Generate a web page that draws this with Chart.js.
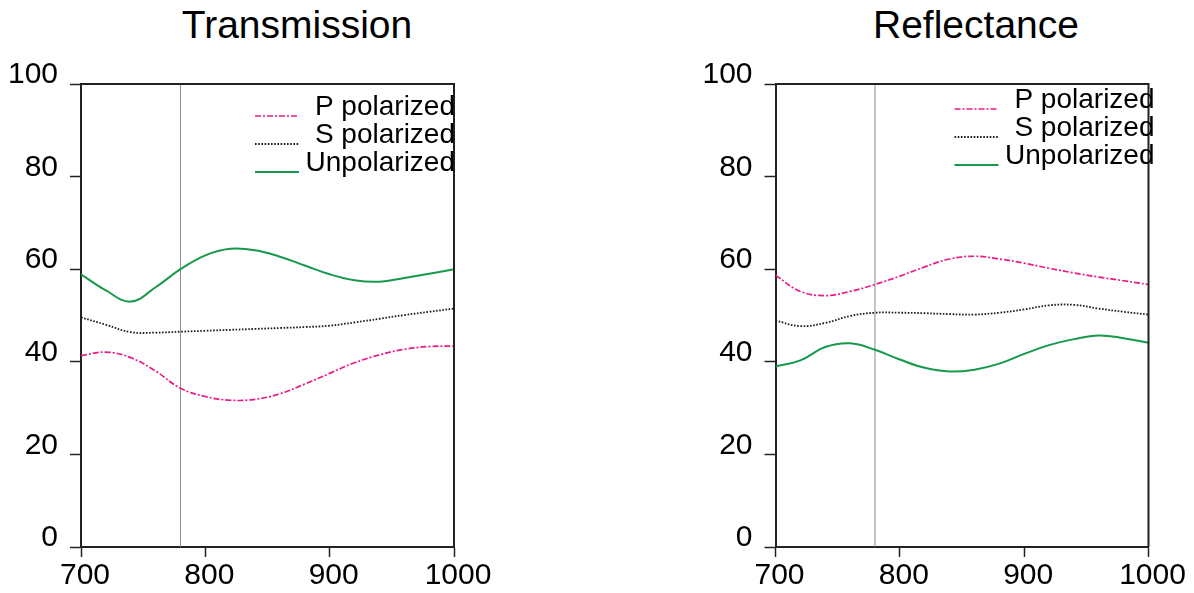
<!DOCTYPE html>
<html>
<head>
<meta charset="utf-8">
<script src="https://cdn.jsdelivr.net/npm/chart.js@4/dist/chart.umd.min.js"></script>
<style>
  body { margin: 0; background: #fff; }
  #wrap { position: relative; width: 1194px; height: 593px; overflow: hidden; }
  canvas { position: absolute; top: 0; }
  .title { position: absolute; top: 6px; text-align: center; font: 39px "Liberation Sans", Arial, sans-serif; line-height: 38px; color: #000; }
</style>
</head>
<body>
<div id="wrap">
  <div class="title" style="left:97px;width:400px">Transmission</div>
  <div class="title" style="left:776px;width:400px">Reflectance</div>
  <canvas id="transChart" width="597" height="593" style="left:0"></canvas>
  <canvas id="reflChart" width="597" height="593" style="left:597px"></canvas>
</div>
<script>
// wavelength (nm)
var wavelengths = [700, 720, 740, 760, 780, 800, 820, 840, 860, 880, 900, 920, 940, 960, 980, 1000];
var yTicks = [0, 20, 40, 60, 80, 100];
var xTicks = [700, 800, 900, 1000];
var seriesNames = ['P polarized', 'S polarized', 'Unpolarized'];

// Transmission (%)
var transP = [41.3, 42.1, 40.9, 38.0, 34.3, 32.5, 31.7, 31.9, 33.1, 35.2, 37.5, 39.8, 41.5, 42.7, 43.3, 43.4];
var transS = [49.6, 48.0, 46.4, 46.3, 46.5, 46.7, 46.9, 47.1, 47.3, 47.5, 47.8, 48.5, 49.3, 50.1, 50.8, 51.5];
var transU = [58.9, 55.4, 53.0, 56.1, 60.0, 63.0, 64.4, 64.1, 62.7, 60.8, 58.9, 57.6, 57.3, 58.1, 59.0, 60.0];

// Reflectance (%)
var reflP = [58.7, 55.2, 54.3, 55.2, 56.7, 58.5, 60.5, 62.2, 62.8, 62.2, 61.3, 60.2, 59.2, 58.3, 57.5, 56.7];
var reflS = [48.9, 47.7, 48.4, 49.9, 50.6, 50.6, 50.5, 50.3, 50.2, 50.6, 51.3, 52.2, 52.3, 51.5, 50.8, 50.2];
var reflU = [39.0, 40.3, 43.2, 44.0, 42.6, 40.5, 38.7, 37.9, 38.3, 39.6, 41.7, 43.6, 44.9, 45.7, 45.1, 44.1];

var markerWavelength = 780;

var font = '"Liberation Sans", Arial, sans-serif';
var axisColor = '#222222';

function points(vals) {
  return wavelengths.map(function(w, i) { return {x: w, y: vals[i]}; });
}

// box around the plot (top + right side, the axes draw the rest)
var frame = {
  id: 'frame',
  afterDatasetsDraw: function(chart) {
    var a = chart.chartArea, ctx = chart.ctx;
    ctx.save();
    ctx.strokeStyle = axisColor;
    ctx.lineWidth = 2;
    ctx.beginPath();
    ctx.moveTo(a.left, a.top);
    ctx.lineTo(a.right, a.top);
    ctx.lineTo(a.right, a.bottom);
    ctx.stroke();
    ctx.restore();
  }
};

// legend inside the plot: line sample on the left, text right aligned
var lineLegend = {
  id: 'lineLegend',
  afterDraw: function(chart, args, opts) {
    var a = chart.chartArea, ctx = chart.ctx;
    var right = a.right + opts.dx;
    var y = a.top + opts.dy;
    ctx.save();
    ctx.font = '28px ' + font;
    ctx.textAlign = 'right';
    ctx.textBaseline = 'alphabetic';
    chart.data.datasets.forEach(function(ds) {
      if (!ds.label) return;
      ctx.strokeStyle = ds.borderColor;
      ctx.lineWidth = ds.borderWidth;
      ctx.setLineDash(ds.borderDash || []);
      ctx.beginPath();
      ctx.moveTo(right - 200, y + 1);
      ctx.lineTo(right - 156, y + 1);
      ctx.stroke();
      ctx.setLineDash([]);
      ctx.fillStyle = '#000';
      ctx.fillText(ds.label, right, y);
      y += 28;
    });
    ctx.restore();
  }
};

function makeChart(id, p, s, u, axisLeft, legendPos) {
  return new Chart(document.getElementById(id), {
    type: 'line',
    data: {
      datasets: [
        {label: seriesNames[0], data: points(p), borderColor: '#ec1a86', borderWidth: 1.7, borderDash: [6, 2, 2, 2]},
        {label: seriesNames[1], data: points(s), borderColor: '#1a1a1a', borderWidth: 1.8, borderDash: [1.6, 1.6]},
        {label: seriesNames[2], data: points(u), borderColor: '#17994b', borderWidth: 2},
        {data: [{x: markerWavelength, y: 0}, {x: markerWavelength, y: 100}], borderColor: '#8a8a8a', borderWidth: 1, tension: 0}
      ]
    },
    options: {
      responsive: false,
      devicePixelRatio: 1,
      animation: false,
      layout: {padding: {left: 0, top: 84, right: 597 - axisLeft - 373, bottom: 6}},
      elements: {
        line: {tension: 0.4, fill: false},
        point: {radius: 0, hoverRadius: 0}
      },
      plugins: {
        legend: {display: false},
        tooltip: {enabled: false},
        title: {display: false},
        lineLegend: legendPos
      },
      scales: {
        x: {
          type: 'linear',
          min: 700,
          max: 1000,
          afterBuildTicks: function(scale) { scale.ticks = xTicks.map(function(v) { return {value: v}; }); },
          afterFit: function(scale) { scale.height = 40; },
          grid: {drawOnChartArea: false, drawTicks: true, tickLength: 10, tickColor: axisColor, tickWidth: 1.5},
          border: {display: true, color: axisColor, width: 2},
          ticks: {color: '#000', font: {family: font, size: 30}, padding: 1, labelOffset: 4, maxRotation: 0,
                  callback: function(v) { return String(v); }}
        },
        y: {
          min: 0,
          max: 100,
          afterBuildTicks: function(scale) { scale.ticks = yTicks.map(function(v) { return {value: v}; }); },
          afterFit: function(scale) { scale.width = axisLeft; },
          grid: {drawOnChartArea: false, drawTicks: true, tickLength: 11, tickColor: axisColor, tickWidth: 1.5},
          border: {display: true, color: axisColor, width: 2},
          ticks: {color: '#000', font: {family: font, size: 30}, padding: 12, labelOffset: -9,
                  callback: function(v) { return String(v); }}
        }
      }
    },
    plugins: [frame, lineLegend]
  });
}

makeChart('transChart', transP, transS, transU, 81, {dx: 1, dy: 31});
makeChart('reflChart', reflP, reflS, reflU, 178.5, {dx: 6, dy: 24});
</script>
</body>
</html>
